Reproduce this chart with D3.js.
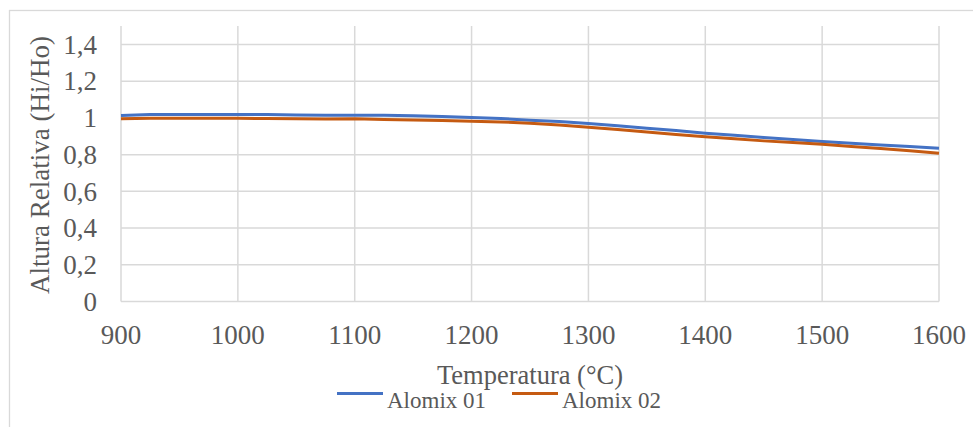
<!DOCTYPE html>
<html><head><meta charset="utf-8">
<script src="https://cdn.jsdelivr.net/npm/d3@7"></script>
<style>body{margin:0;background:#fff}svg{display:block}</style>
</head><body>
<script>
const temps = [900,925,950,975,1000,1025,1050,1075,1100,1125,1150,1175,1200,1225,1250,1275,1300,1325,1350,1375,1400,1425,1450,1475,1500,1525,1550,1575,1600];
const alomix01 = [1.013,1.018,1.018,1.018,1.018,1.018,1.016,1.015,1.015,1.014,1.012,1.008,1.002,0.997,0.988,0.980,0.970,0.957,0.944,0.931,0.917,0.905,0.894,0.882,0.871,0.862,0.853,0.844,0.835];
const alomix02 = [0.996,0.998,0.998,0.998,0.998,0.997,0.996,0.994,0.995,0.991,0.989,0.986,0.982,0.978,0.971,0.962,0.949,0.937,0.923,0.910,0.898,0.886,0.875,0.866,0.857,0.845,0.833,0.821,0.808];
const seriesNames = ["Alomix 01","Alomix 02"];
const seriesColors = ["#4472C4","#C55A11"];
const xTicks = [900,1000,1100,1200,1300,1400,1500,1600];
const yTicks = [0,0.2,0.4,0.6,0.8,1,1.2,1.4];
const xTitle = "Temperatura (°C)";
const yTitle = "Altura Relativa (Hi/Ho)";

const W=973,H=427;
const svg=d3.select("body").append("svg").attr("width",W).attr("height",H);
const font="'Liberation Serif','Times New Roman',serif";
const txt="#595959", grid="#d9d9d9";

svg.append("rect").attr("x",9.5).attr("y",10.5).attr("width",W+10).attr("height",H+10)
  .attr("fill","none").attr("stroke",grid).attr("stroke-width",1.3);

const x=d3.scaleLinear().domain([900,1600]).range([121,939]);
const y=d3.scaleLinear().domain([0,1.4]).range([301.5,44.5]);
const plotTop=26;

svg.append("g").selectAll("line").data(yTicks).join("line")
  .attr("x1",x(900)).attr("x2",x(1600)).attr("y1",d=>y(d)).attr("y2",d=>y(d))
  .attr("stroke",grid).attr("stroke-width",1.5);
svg.append("g").selectAll("line").data(xTicks).join("line")
  .attr("x1",d=>x(d)).attr("x2",d=>x(d)).attr("y1",plotTop).attr("y2",y(0))
  .attr("stroke",grid).attr("stroke-width",1.5);

const fmt=d=>String(d).replace(".",",");
svg.append("g").selectAll("text").data(yTicks).join("text")
  .attr("x",97).attr("y",d=>y(d)).attr("dy","0.34em").attr("text-anchor","end")
  .attr("font-family",font).attr("font-size",27).attr("fill",txt).text(fmt);
svg.append("g").selectAll("text").data(xTicks).join("text")
  .attr("x",d=>x(d)).attr("y",343.5).attr("text-anchor","middle")
  .attr("font-family",font).attr("font-size",27).attr("fill",txt).text(d=>d);

svg.append("text").attr("x",(x(900)+x(1600))/2).attr("y",383.5).attr("text-anchor","middle")
  .attr("font-family",font).attr("font-size",26.5).attr("fill",txt).text(xTitle);
svg.append("text").attr("transform","translate(49,165) rotate(-90)").attr("text-anchor","middle")
  .attr("font-family",font).attr("font-size",27).attr("fill",txt).text(yTitle);

const data=[alomix01,alomix02];
const line=d3.line().x((d,i)=>x(temps[i])).y(d=>y(d));
data.forEach((s,k)=>{
  svg.append("path").datum(s).attr("d",line).attr("fill","none")
    .attr("stroke",seriesColors[k]).attr("stroke-width",3).attr("stroke-linejoin","round");
});

const legX=[337,512];
seriesNames.forEach((n,k)=>{
  svg.append("line").attr("x1",legX[k]).attr("x2",legX[k]+46).attr("y1",393.5).attr("y2",393.5)
    .attr("stroke",seriesColors[k]).attr("stroke-width",3);
  svg.append("text").attr("x",legX[k]+50).attr("y",407.5).attr("font-family",font)
    .attr("font-size",23).attr("fill",txt).text(n);
});
</script>
</body></html>
